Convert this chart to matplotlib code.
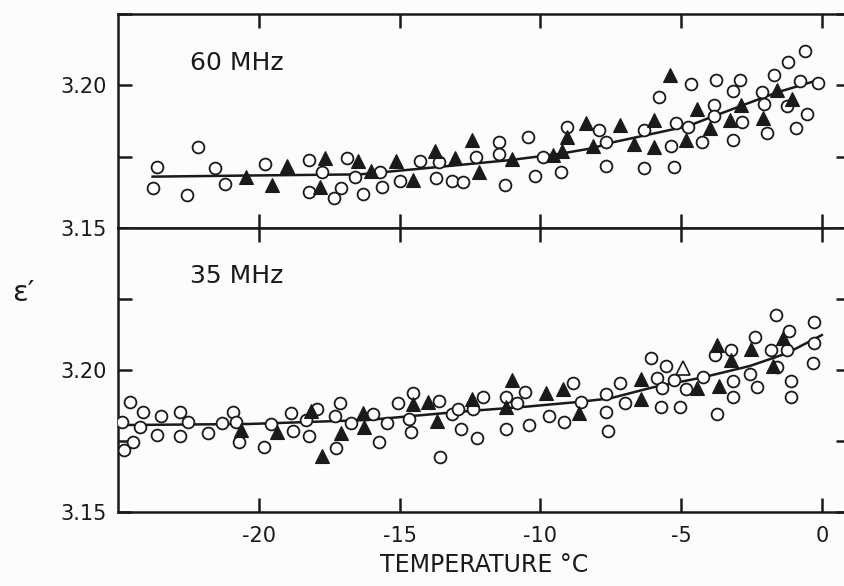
import matplotlib
matplotlib.use('Agg')
import matplotlib.pyplot as plt

# ---- 60 MHz (painel superior) ----
t60_circ = [-23.61, -23.74, -22.17, -22.55, -21.54, -21.20, -19.78, -18.20, -17.75, -18.23,
            -17.08, -17.34, -16.88, -16.58, -16.31, -15.68, -15.62, -14.99, -14.26, -13.60,
            -13.69, -13.15, -12.74, -12.29, -11.46, -11.46, -11.26, -10.45, -10.17, -9.92,
            -9.25, -9.06, -7.93, -7.65, -7.67, -6.31, -6.31, -5.78, -5.37, -5.26,
            -5.19, -4.75, -4.63, -4.26, -3.84, -3.84, -3.77, -3.17, -2.91, -3.17,
            -2.85, -2.11, -2.05, -1.94, -1.71, -1.25, -1.20, -0.92, -0.78, -0.61,
            -0.54, -0.15]
e60_circ = [3.1714, 3.1639, 3.1784, 3.1615, 3.1712, 3.1654, 3.1723, 3.1738, 3.1697, 3.1627,
            3.1639, 3.1604, 3.1746, 3.1679, 3.1618, 3.1695, 3.1644, 3.1664, 3.1735, 3.1732,
            3.1677, 3.1665, 3.1662, 3.1749, 3.1800, 3.1759, 3.1650, 3.1819, 3.1684, 3.1748,
            3.1697, 3.1854, 3.1843, 3.1802, 3.1717, 3.1845, 3.1711, 3.1959, 3.1787, 3.1714,
            3.1868, 3.1854, 3.2006, 3.1802, 3.1930, 3.1892, 3.2020, 3.1979, 3.2020, 3.1810,
            3.1872, 3.1977, 3.1936, 3.1833, 3.2035, 3.1927, 3.2081, 3.1852, 3.2015, 3.2122,
            3.1899, 3.2009]
t60_tri = [-20.45, -19.54, -19.01, -17.64, -17.84, -16.46, -16.00, -15.14, -14.52, -13.75,
           -13.04, -12.43, -12.18, -11.01, -9.55, -9.23, -9.05, -8.36, -8.12, -7.18,
           -6.68, -5.97, -5.96, -5.40, -4.81, -4.45, -3.98, -3.27, -2.88, -2.09,
           -1.61, -1.06]
e60_tri = [3.1679, 3.1650, 3.1717, 3.1747, 3.1642, 3.1734, 3.1700, 3.1735, 3.1668, 3.1770,
           3.1746, 3.1810, 3.1697, 3.1741, 3.1755, 3.1770, 3.1819, 3.1868, 3.1788, 3.1860,
           3.1796, 3.1880, 3.1784, 3.2037, 3.1810, 3.1916, 3.1852, 3.1878, 3.1930, 3.1887,
           3.1983, 3.1953]
t60_fit = [-23.77, -20.32, -16.41, -14.03, -11.08, -9.31, -8.13, -7.53, -4.76, -3.84, -1.60, -0.18]
e60_fit = [3.1680, 3.1684, 3.1688, 3.1710, 3.1738, 3.1760, 3.1780, 3.1798, 3.1857, 3.1892, 3.1975, 3.2017]

# ---- 35 MHz (painel inferior) ----
t35_circ = [-24.57, -24.87, -24.77, -24.48, -24.10, -24.20, -23.63, -23.47, -22.80, -22.81,
            -22.52, -21.81, -21.30, -20.93, -20.79, -20.71, -19.80, -19.56, -18.87, -18.78,
            -18.23, -18.32, -17.94, -17.29, -17.11, -17.24, -16.74, -15.94, -15.46, -15.73,
            -15.05, -14.52, -14.66, -14.60, -13.61, -13.57, -13.13, -12.92, -12.83, -12.39,
            -12.23, -12.05, -11.20, -11.23, -10.81, -10.55, -10.41, -9.70, -9.15, -8.83,
            -8.56, -7.65, -7.65, -7.59, -7.18, -7.00, -6.07, -5.87, -5.54, -5.69,
            -5.73, -5.26, -5.04, -4.83, -4.22, -3.72, -3.80, -3.24, -3.17, -3.15,
            -2.56, -2.36, -2.30, -1.82, -1.63, -1.59, -1.25, -1.16, -1.08, -1.11,
            -0.28, -0.28, -0.33]
e35_circ = [3.1888, 3.1816, 3.1718, 3.1745, 3.1851, 3.1798, 3.1771, 3.1839, 3.1853, 3.1769,
            3.1818, 3.1777, 3.1814, 3.1853, 3.1817, 3.1748, 3.1730, 3.1810, 3.1850, 3.1785,
            3.1769, 3.1824, 3.1862, 3.1839, 3.1883, 3.1726, 3.1812, 3.1845, 3.1812, 3.1748,
            3.1885, 3.1918, 3.1826, 3.1781, 3.1891, 3.1695, 3.1845, 3.1863, 3.1791, 3.1863,
            3.1760, 3.1906, 3.1904, 3.1791, 3.1883, 3.1924, 3.1805, 3.1839, 3.1818, 3.1953,
            3.1888, 3.1914, 3.1851, 3.1786, 3.1953, 3.1885, 3.2041, 3.1973, 3.2014, 3.1936,
            3.1869, 3.1965, 3.1871, 3.1932, 3.1976, 3.1845, 3.2053, 3.2070, 3.1962, 3.1906,
            3.1986, 3.2117, 3.1939, 3.2070, 3.2194, 3.2012, 3.2070, 3.2138, 3.1962, 3.1904,
            3.2170, 3.2096, 3.2024]
t35_tri = [-20.63, -19.36, -18.16, -17.75, -17.08, -16.31, -16.25, -14.52, -13.99, -13.67,
           -12.42, -11.02, -11.20, -9.80, -9.19, -8.63, -6.41, -6.41, -4.45, -3.74,
           -3.24, -3.65, -2.52, -1.75, -1.37]
e35_tri = [3.1789, 3.1783, 3.1857, 3.1697, 3.1777, 3.1850, 3.1800, 3.1879, 3.1888, 3.1820,
           3.1897, 3.1965, 3.1871, 3.1920, 3.1932, 3.1850, 3.1967, 3.1897, 3.1936, 3.2088,
           3.2035, 3.1944, 3.2073, 3.2014, 3.2112]
t35_open = [-4.93]
e35_open = [3.2006]
t35_fit = [-25.0, -20.32, -16.13, -12.86, -10.48, -8.60, -7.53, -6.00, -4.23, -2.56, -1.24, 0.0]
e35_fit = [3.1806, 3.1810, 3.1824, 3.1853, 3.1871, 3.1888, 3.1900, 3.1939, 3.1974, 3.2014, 3.2059, 3.2123]

x_ticks = [-20, -15, -10, -5, 0]
x_ticklabels = ['-20', '-15', '-10', '-5', '0']

cor = '#1a1a1a'
fundo = '#fcfcfa'

fig = plt.figure(figsize=(8.45, 5.86), dpi=100, facecolor=fundo)
ax_top = fig.add_axes([0.1396, 0.6109, 0.8663, 0.3652], facecolor=fundo)
ax_bot = fig.add_axes([0.1396, 0.1263, 0.8663, 0.4846], facecolor=fundo)

paineis = [
    (ax_top, t60_circ, e60_circ, t60_tri, e60_tri, [], [], t60_fit, e60_fit, (3.15, 3.225), '60 MHz', 0.77),
    (ax_bot, t35_circ, e35_circ, t35_tri, e35_tri, t35_open, e35_open, t35_fit, e35_fit, (3.15, 3.25), '35 MHz', 0.83),
]

for ax, tc, ec, tt, et, to, eo, tf, ef, ylim, rotulo, ypos in paineis:
    ax.plot(tf, ef, color=cor, lw=1.8, zorder=2)
    ax.plot(tc, ec, 'o', ms=8.5, mfc='white', mec=cor, mew=1.3, zorder=3)
    ax.plot(tt, et, '^', ms=9.5, mfc=cor, mec=cor, mew=0.8, zorder=4)
    if to:
        ax.plot(to, eo, '^', ms=9.5, mfc='white', mec=cor, mew=1.2, zorder=4)
    ax.set_xlim(-25, 1)
    ax.set_ylim(*ylim)
    ax.set_yticks([3.15, 3.175, 3.20, 3.225])
    ax.set_yticklabels(['3.15', '', '3.20', ''])
    ax.set_xticks(x_ticks)
    ax.tick_params(direction='in', length=10, width=1.8, colors=cor, labelsize=15,
                   top=True, right=True, pad=8)
    ax.tick_params(axis='x', pad=10)
    for s in ax.spines.values():
        s.set_linewidth(1.8)
        s.set_color(cor)
    ax.text(0.099, ypos, rotulo, transform=ax.transAxes,
            fontsize=18, color=cor, ha='left', va='center')

ax_top.set_xticklabels([])
ax_bot.set_xticklabels(x_ticklabels)
ax_bot.set_xlabel('TEMPERATURE °C', fontsize=17, color=cor, labelpad=5)
fig.text(0.027, 0.5, 'ε′', fontsize=21, color=cor, ha='center', va='center')

plt.savefig('out.png', dpi=100, facecolor=fundo)
plt.close()
